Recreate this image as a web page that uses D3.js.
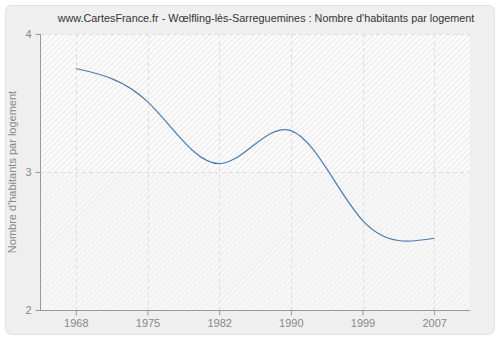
<!DOCTYPE html>
<html><head><meta charset="utf-8">
<script src="https://cdn.jsdelivr.net/npm/d3@7"></script>
<style>html,body{margin:0;padding:0;background:#fff;}svg{display:block;font-family:"Liberation Sans",Arial,sans-serif;}</style>
</head><body>
<svg id="c" width="500" height="340"></svg>
<script>
const titleText = "www.CartesFrance.fr - Wœlfling-lès-Sarreguemines : Nombre d'habitants par logement";
const yLabel = "Nombre d'habitants par logement";
const years = ["1968","1975","1982","1990","1999","2007"];
const values = [3.75, 3.51, 3.06, 3.30, 2.65, 2.52];
const yTicks = [2, 3, 4];

const svg = d3.select("#c");
const W = 500, H = 340;
const m = {left: 40, right: 30, top: 34, bottom: 30};
const FONT = "Liberation Sans, Arial, sans-serif";

svg.append("rect").attr("x", 5.5).attr("y", 5.5).attr("width", 489).attr("height", 329)
  .attr("rx", 6).attr("fill", "#efefef").attr("stroke", "#e2e2e2");

const defs = svg.append("defs");
const pat = defs.append("pattern").attr("id", "hatch").attr("patternUnits", "userSpaceOnUse")
  .attr("width", 4).attr("height", 4).attr("patternTransform", "rotate(45)");
pat.append("rect").attr("width", 4).attr("height", 4).attr("fill", "#fbfbfb");
pat.append("line").attr("x1", 0.5).attr("y1", 0).attr("x2", 0.5).attr("y2", 4)
  .attr("stroke", "#eaeaea").attr("stroke-width", 1);

const x = d3.scalePoint().domain(years).range([m.left, W - m.right]).padding(0.5);
const y = d3.scaleLinear().domain([2, 4]).range([H - m.bottom, m.top]);

svg.append("rect").attr("x", m.left).attr("y", m.top)
  .attr("width", W - m.right - m.left).attr("height", H - m.bottom - m.top)
  .attr("fill", "url(#hatch)");
// slightly greyer band below the middle tick
svg.append("rect").attr("x", m.left).attr("y", y(3))
  .attr("width", W - m.right - m.left).attr("height", y(2) - y(3))
  .attr("fill", "#f2f2f2").attr("opacity", 0.45);

// grid
const g = svg.append("g");
g.selectAll(".vg").data(years).join("line")
  .attr("x1", d => Math.round(x(d)) + 0.5).attr("x2", d => Math.round(x(d)) + 0.5)
  .attr("y1", m.top).attr("y2", H - m.bottom)
  .attr("stroke", "#dedede").attr("stroke-dasharray", "4,3");
g.selectAll(".hg").data(yTicks.filter(t => t > 2)).join("line")
  .attr("x1", m.left).attr("x2", W - m.right)
  .attr("y1", d => Math.round(y(d)) + 0.5).attr("y2", d => Math.round(y(d)) + 0.5)
  .attr("stroke", "#dedede").attr("stroke-dasharray", "4,3");

// axes
const yAxis = svg.append("g").attr("transform", `translate(${m.left + 0.5},0)`)
  .call(d3.axisLeft(y).tickValues(yTicks).tickSize(5).tickPadding(4).tickFormat(d3.format("d")));
const xAxis = svg.append("g").attr("transform", `translate(0,${H - m.bottom + 0.5})`)
  .call(d3.axisBottom(x).tickSize(5).tickPadding(4));
[yAxis, xAxis].forEach(a => {
  a.select(".domain").attr("stroke", "#999");
  a.selectAll(".tick line").attr("stroke", "#999");
  a.selectAll(".tick text").attr("fill", "#888").attr("font-size", 11).attr("font-family", FONT);
});
yAxis.select(".domain").attr("d", `M0,${m.top}V${H - m.bottom}`);
xAxis.select(".domain").attr("d", `M${m.left},0H${W - m.right}`);

// line
const line = d3.line().x((d, i) => x(years[i])).y(d => y(d)).curve(d3.curveNatural);
svg.append("path").datum(values).attr("d", line)
  .attr("fill", "none").attr("stroke", "#4a7ab0").attr("stroke-width", 1.2);

// title
const t = svg.append("text").attr("x", 266).attr("y", 22).attr("text-anchor", "middle")
  .attr("font-size", 12).attr("font-family", FONT).attr("fill", "#333").text(titleText);
const tw = t.node().getComputedTextLength();
if (tw > 417) t.attr("font-size", 12 * 417 / tw);
svg.append("text").attr("transform", `translate(16,${(m.top + H - m.bottom) / 2}) rotate(-90)`)
  .attr("text-anchor", "middle").attr("font-size", 11).attr("font-family", FONT)
  .attr("fill", "#888").text(yLabel);
</script>
</body></html>
